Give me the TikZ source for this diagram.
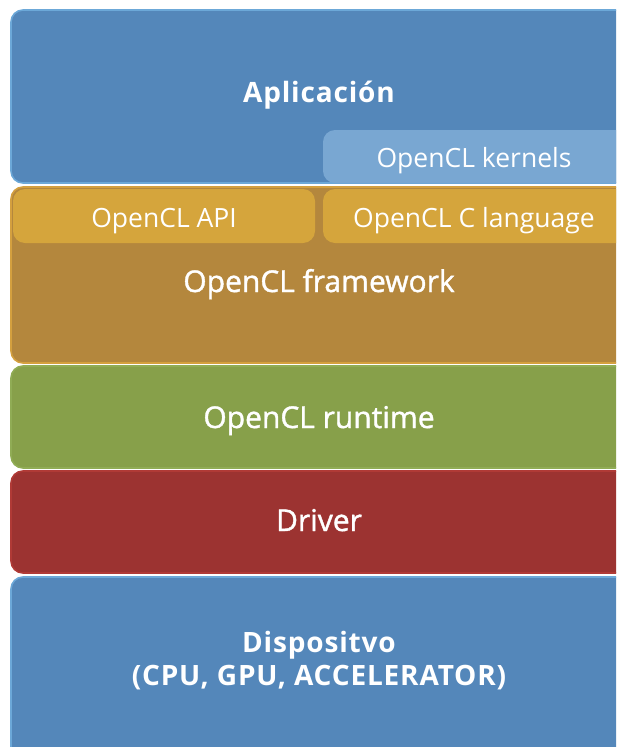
\documentclass[tikz,border=0pt]{standalone}
\usepackage{fontspec}
\setmainfont{Open Sans}
\newfontfamily\midweight[FakeBold=1.3]{Open Sans}
\newfontfamily\strongface[LetterSpace=3]{Open Sans Bold}
\begin{document}
\begin{tikzpicture}[x=1pt,y=-1pt,
  layer/.style={rounded corners=12pt, line width=1.6pt},
  sublayer/.style={rounded corners=12pt},
  lbl/.style={text=white, anchor=base, inner sep=0pt, font=\fontsize{30}{36}\midweight},
  small/.style={text=white, anchor=base, inner sep=0pt, font=\fontsize{26.5}{32}\selectfont},
  heavy/.style={text=white, anchor=base, inner sep=0pt, align=center, font=\fontsize{28}{33}\strongface}
]
\definecolor{appblue}{HTML}{5487BA}
\definecolor{appedge}{HTML}{6CA8D8}
\definecolor{kernblue}{HTML}{79A7D2}
\definecolor{fwbrown}{HTML}{B4873D}
\definecolor{fwedge}{HTML}{D4A03F}
\definecolor{fwgold}{HTML}{D5A53C}
\definecolor{rtgreen}{HTML}{87A04A}
\definecolor{rtedge}{HTML}{90AC55}
\definecolor{drvred}{HTML}{9C3331}
\definecolor{drvedge}{HTML}{B03A36}

\useasboundingbox (0,0) rectangle (616,747);
\clip (0,0) rectangle (616,747);

% application layer with the kernels tab
\draw[layer, fill=appblue, draw=appedge] (11,10) rectangle (630,183);
\fill[sublayer, fill=kernblue] (323,130) rectangle (630,183);
\node[heavy] (app) at (319,102) {Aplicación};
\node[small] (kern) at (474,167) {OpenCL kernels};

% framework layer with its two parts
\draw[layer, fill=fwbrown, draw=fwedge] (11,187) rectangle (630,363);
\fill[sublayer, fill=fwgold] (13,189) rectangle (315,243);
\fill[sublayer, fill=fwgold] (323,189) rectangle (630,243);
\node[small] (api) at (164,227) {OpenCL API};
\node[small] (clang) at (474,227) {OpenCL C language};
\node[lbl] (fw) at (319,292) {OpenCL framework};

% runtime
\draw[layer, fill=rtgreen, draw=rtedge] (11,366) rectangle (630,468);
\node[lbl] (rt) at (319,428) {OpenCL runtime};

% driver
\draw[layer, fill=drvred, draw=drvedge] (11,471) rectangle (630,573);
\node[lbl] (drv) at (319,531) {Driver};

% device
\draw[layer, fill=appblue, draw=appedge] (11,577) rectangle (630,770);
\node[heavy] (dev) at (319,652) {Dispositvo};
\node[heavy] (devkinds) at (319,685) {(CPU, GPU, ACCELERATOR)};
\end{tikzpicture}
\end{document}
